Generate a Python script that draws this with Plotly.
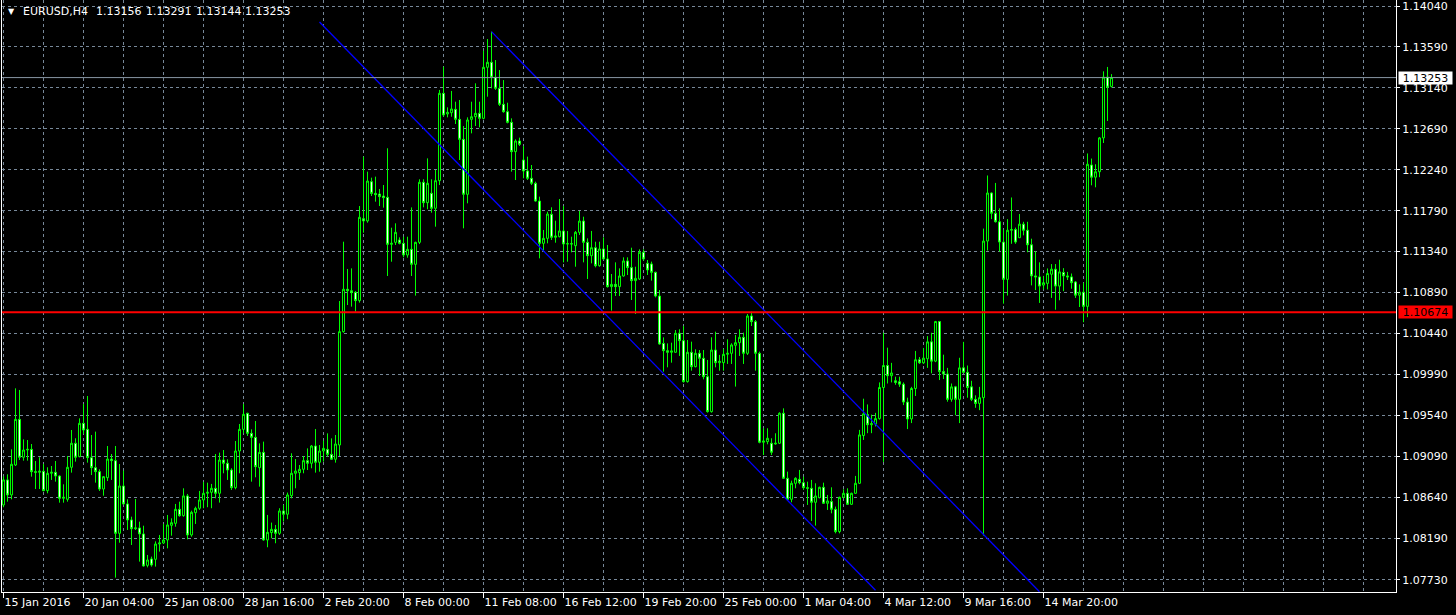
import plotly.graph_objects as go

symbol = "EURUSD,H4"
time_labels = ["15 Jan 2016", "20 Jan 04:00", "25 Jan 08:00", "28 Jan 16:00", "2 Feb 20:00",
               "8 Feb 00:00", "11 Feb 08:00", "16 Feb 12:00", "19 Feb 20:00", "25 Feb 00:00",
               "1 Mar 04:00", "4 Mar 12:00", "9 Mar 16:00", "14 Mar 20:00"]
label_bars = [0, 20, 40, 60, 80, 100, 120, 140, 160, 180, 200, 220, 240, 260]
price_ticks = [1.14040, 1.13590, 1.13140, 1.12690, 1.12240, 1.11790, 1.11340, 1.10890,
               1.10440, 1.09990, 1.09540, 1.09090, 1.08640, 1.08190, 1.07730]

open_ = [
    1.08555, 1.08830, 1.08665, 1.08994, 1.09496, 1.09079, 1.09159, 1.09166, 1.08921, 1.08914,
    1.08925, 1.08712, 1.08903, 1.08914, 1.08873, 1.08628, 1.08617, 1.08969, 1.09233, 1.09086,
    1.09452, 1.09386, 1.09075, 1.08965, 1.08921, 1.08730, 1.08855, 1.09060, 1.09042, 1.08243,
    1.08763, 1.08566, 1.08390, 1.08294, 1.08302, 1.08236, 1.07891, 1.07961, 1.07957, 1.08126,
    1.08137, 1.08170, 1.08331, 1.08353, 1.08507, 1.08437, 1.08654, 1.08225, 1.08470, 1.08518,
    1.08610, 1.08683, 1.08694, 1.08738, 1.08683, 1.09049, 1.09013, 1.08939, 1.08745, 1.09148,
    1.09386, 1.09562, 1.09342, 1.09298, 1.08965, 1.09133, 1.08170, 1.08251, 1.08287, 1.08243,
    1.08489, 1.08453, 1.08658, 1.08903, 1.08910, 1.08947, 1.09042, 1.09013, 1.09203, 1.09024,
    1.09148, 1.09166, 1.09111, 1.09057, 1.09214, 1.10460, 1.10926, 1.10910, 1.10892, 1.10801,
    1.11702, 1.11677, 1.12109, 1.11980, 1.11973, 1.11951, 1.11937, 1.11420, 1.11442, 1.11468,
    1.11431, 1.11303, 1.11365, 1.11200, 1.11442, 1.12102, 1.11878, 1.11981, 1.11816, 1.12120,
    1.13080, 1.12853, 1.12867, 1.12904, 1.12794, 1.12574, 1.11970, 1.12794, 1.12823, 1.12860,
    1.12805, 1.13366, 1.13421, 1.13256, 1.13135, 1.12959, 1.12878, 1.12761, 1.12439, 1.12556,
    1.12347, 1.12226, 1.12146, 1.12091, 1.11896, 1.11431, 1.11486, 1.11750, 1.11497, 1.11504,
    1.11567, 1.11424, 1.11427, 1.11405, 1.11552, 1.11676, 1.11442, 1.11295, 1.11383, 1.11185,
    1.11369, 1.11259, 1.10955, 1.10980, 1.10955, 1.11072, 1.11237, 1.11164, 1.11021, 1.11039,
    1.11332, 1.11211, 1.11204, 1.11112, 1.10852, 1.10331, 1.10251, 1.10233, 1.10233, 1.10442,
    1.10361, 1.09911, 1.10233, 1.10075, 1.10222, 1.10167, 1.09965, 1.09581, 1.10258, 1.10119,
    1.10119, 1.10211, 1.10222, 1.10310, 1.10339, 1.10398, 1.10222, 1.10632, 1.10570, 1.10222,
    1.09244, 1.09251, 1.09233, 1.09225, 1.09233, 1.09563, 1.08848, 1.08617, 1.08793, 1.08837,
    1.08800, 1.08745, 1.08738, 1.08584, 1.08635, 1.08749, 1.08573, 1.08592, 1.08507, 1.08262,
    1.08639, 1.08683, 1.08562, 1.08683, 1.08793, 1.09318, 1.09548, 1.09437, 1.09444, 1.09504,
    1.09846, 1.10088, 1.09976, 1.09920, 1.09909, 1.09883, 1.09686, 1.09500, 1.09835, 1.10151,
    1.10117, 1.10162, 1.10348, 1.10136, 1.10571, 1.10021, 1.09995, 1.09716, 1.09853, 1.09716,
    1.10062, 1.10013, 1.09853, 1.09716, 1.09671, 1.09734, 1.11456, 1.11984, 1.11761, 1.11668,
    1.11445, 1.11035, 1.11575, 1.11582, 1.11493, 1.11642, 1.11575, 1.11415, 1.11073, 1.11062,
    1.10972, 1.10991, 1.11091, 1.11147, 1.10961, 1.11110, 1.11073, 1.11062, 1.11006, 1.10861,
    1.10894, 1.10738, 1.12292, 1.12158, 1.12218, 1.12590, 1.13259, 1.13156,
]
high = [
    1.08870, 1.08892, 1.09166, 1.09837, 1.09819, 1.09276, 1.09269, 1.09225, 1.09038, 1.09079,
    1.09005, 1.08969, 1.08983, 1.09038, 1.08881, 1.08782, 1.09093, 1.09379, 1.09288, 1.09507,
    1.09665, 1.09753, 1.09324, 1.09361, 1.08947, 1.08873, 1.09203, 1.09115, 1.09203, 1.09005,
    1.08932, 1.08617, 1.08426, 1.08620, 1.08371, 1.08327, 1.08005, 1.07987, 1.08155, 1.08225,
    1.08346, 1.08445, 1.08408, 1.08566, 1.08591, 1.08738, 1.08676, 1.08492, 1.08536, 1.08709,
    1.08808, 1.08800, 1.08786, 1.09115, 1.09130, 1.09159, 1.09057, 1.08958, 1.09258, 1.09445,
    1.09664, 1.09569, 1.09386, 1.09478, 1.09232, 1.09251, 1.08445, 1.08361, 1.08335, 1.08519,
    1.08555, 1.08691, 1.09123, 1.09060, 1.08994, 1.09093, 1.09177, 1.09214, 1.09390, 1.09214,
    1.09262, 1.09342, 1.09287, 1.09324, 1.10797, 1.11449, 1.11149, 1.11156, 1.10907, 1.11841,
    1.12384, 1.12219, 1.12153, 1.12164, 1.12028, 1.12072, 1.12476, 1.11603, 1.11651, 1.11497,
    1.11504, 1.11504, 1.11826, 1.11449, 1.12135, 1.12135, 1.12365, 1.12135, 1.12237, 1.13117,
    1.13373, 1.12926, 1.13106, 1.12988, 1.13007, 1.12721, 1.12816, 1.12988, 1.13190, 1.12988,
    1.13549, 1.13677, 1.13758, 1.13446, 1.13336, 1.13226, 1.12977, 1.12805, 1.12574, 1.12593,
    1.12501, 1.12384, 1.12292, 1.12109, 1.11944, 1.11578, 1.11779, 1.11827, 1.11680, 1.11918,
    1.11841, 1.11567, 1.11504, 1.11567, 1.11786, 1.11724, 1.11486, 1.11567, 1.11449, 1.11449,
    1.11497, 1.11413, 1.11094, 1.11222, 1.11156, 1.11277, 1.11277, 1.11383, 1.11174, 1.11365,
    1.11365, 1.11248, 1.11230, 1.11120, 1.10918, 1.10397, 1.10331, 1.10339, 1.10478, 1.10486,
    1.10522, 1.10368, 1.10350, 1.10266, 1.10258, 1.10258, 1.10149, 1.10398, 1.10460, 1.10204,
    1.10270, 1.10376, 1.10332, 1.10424, 1.10486, 1.10449, 1.10654, 1.10680, 1.10588, 1.10240,
    1.09398, 1.09398, 1.09288, 1.09343, 1.09573, 1.09617, 1.08921, 1.08822, 1.08859, 1.08940,
    1.08866, 1.08811, 1.08830, 1.08793, 1.08756, 1.08800, 1.08665, 1.08749, 1.08537, 1.08646,
    1.08727, 1.08738, 1.08690, 1.08874, 1.09380, 1.09723, 1.09660, 1.09548, 1.09567, 1.09902,
    1.10448, 1.10284, 1.10117, 1.09965, 1.09965, 1.09902, 1.09734, 1.09853, 1.10248, 1.10181,
    1.10281, 1.10411, 1.10448, 1.10578, 1.10578, 1.10207, 1.10062, 1.09890, 1.09864, 1.10173,
    1.10348, 1.10088, 1.09920, 1.09760, 1.09853, 1.11593, 1.12177, 1.11991, 1.12095, 1.11816,
    1.11582, 1.11697, 1.11935, 1.11604, 1.11753, 1.11668, 1.11668, 1.11482, 1.11344, 1.11222,
    1.11073, 1.11155, 1.11203, 1.11203, 1.11251, 1.11158, 1.11117, 1.11099, 1.11017, 1.10980,
    1.10998, 1.12419, 1.12363, 1.12300, 1.12600, 1.13322, 1.13370, 1.13291,
]
low = [
    1.08530, 1.08591, 1.08617, 1.08983, 1.09049, 1.09042, 1.09042, 1.08866, 1.08730, 1.08730,
    1.08705, 1.08683, 1.08830, 1.08811, 1.08580, 1.08580, 1.08591, 1.08910, 1.09031, 1.09079,
    1.09335, 1.09020, 1.08884, 1.08800, 1.08709, 1.08657, 1.08818, 1.08830, 1.07756, 1.08140,
    1.08558, 1.08280, 1.08115, 1.08280, 1.07932, 1.07877, 1.07869, 1.07877, 1.07877, 1.08042,
    1.08126, 1.08078, 1.08217, 1.08316, 1.08426, 1.08426, 1.08177, 1.08206, 1.08346, 1.08500,
    1.08519, 1.08530, 1.08519, 1.08628, 1.08581, 1.08903, 1.08830, 1.08720, 1.08727, 1.08903,
    1.09342, 1.09313, 1.08811, 1.08859, 1.08756, 1.08163, 1.08090, 1.08188, 1.08134, 1.08225,
    1.08372, 1.08398, 1.08628, 1.08738, 1.08830, 1.08903, 1.08939, 1.08958, 1.08910, 1.08921,
    1.09031, 1.09086, 1.09049, 1.09020, 1.09093, 1.10449, 1.10753, 1.10735, 1.10680, 1.10779,
    1.11548, 1.11658, 1.11951, 1.11889, 1.11841, 1.11823, 1.11072, 1.11229, 1.11413, 1.11420,
    1.11277, 1.11273, 1.11072, 1.10856, 1.11423, 1.11827, 1.11805, 1.11768, 1.11614, 1.12072,
    1.12823, 1.12816, 1.12823, 1.12743, 1.12347, 1.11596, 1.11871, 1.12640, 1.12721, 1.12706,
    1.12794, 1.13043, 1.13135, 1.13117, 1.12941, 1.12867, 1.12750, 1.12219, 1.12127, 1.12501,
    1.12146, 1.12127, 1.12072, 1.11889, 1.11266, 1.11339, 1.11431, 1.11468, 1.11438, 1.11497,
    1.11222, 1.11229, 1.11332, 1.11174, 1.11523, 1.11222, 1.11039, 1.11211, 1.11167, 1.11174,
    1.11248, 1.10944, 1.10691, 1.10852, 1.10852, 1.11065, 1.11083, 1.10808, 1.10654, 1.11028,
    1.11241, 1.11083, 1.11021, 1.10837, 1.10317, 1.10020, 1.10068, 1.10119, 1.10229, 1.10193,
    1.09900, 1.09900, 1.10031, 1.10068, 1.09973, 1.09936, 1.09570, 1.09570, 1.10068, 1.10031,
    1.10031, 1.10105, 1.10105, 1.09856, 1.10193, 1.10105, 1.10204, 1.10522, 1.10031, 1.09233,
    1.09104, 1.09222, 1.09104, 1.09218, 1.09225, 1.08840, 1.08610, 1.08584, 1.08738, 1.08782,
    1.08720, 1.08555, 1.08379, 1.08328, 1.08628, 1.08566, 1.08500, 1.08463, 1.08243, 1.08243,
    1.08628, 1.08555, 1.08555, 1.08676, 1.08786, 1.09270, 1.09344, 1.09344, 1.09418, 1.09493,
    1.09028, 1.09890, 1.09902, 1.09876, 1.09853, 1.09653, 1.09389, 1.09455, 1.09753, 1.10106,
    1.10106, 1.10062, 1.10002, 1.10125, 1.09928, 1.09939, 1.09690, 1.09690, 1.09541, 1.09455,
    1.10002, 1.09734, 1.09697, 1.09623, 1.09597, 1.08217, 1.11352, 1.11697, 1.11660, 1.11340,
    1.10768, 1.10857, 1.11426, 1.11426, 1.11489, 1.11519, 1.11333, 1.10969, 1.10917, 1.10776,
    1.10924, 1.10924, 1.10831, 1.10701, 1.10805, 1.10905, 1.11028, 1.10932, 1.10831, 1.10731,
    1.10564, 1.10619, 1.12069, 1.12047, 1.12158, 1.12534, 1.12776, 1.13144,
]
close = [
    1.08830, 1.08665, 1.09002, 1.09496, 1.09079, 1.09159, 1.09166, 1.08921, 1.08914, 1.08925,
    1.08712, 1.08903, 1.08914, 1.08873, 1.08628, 1.08639, 1.08969, 1.09233, 1.09079, 1.09452,
    1.09379, 1.09075, 1.08965, 1.08921, 1.08730, 1.08866, 1.09060, 1.09042, 1.08243, 1.08763,
    1.08566, 1.08390, 1.08294, 1.08302, 1.08236, 1.07884, 1.07950, 1.07895, 1.08126, 1.08137,
    1.08170, 1.08335, 1.08360, 1.08507, 1.08437, 1.08654, 1.08225, 1.08474, 1.08518, 1.08610,
    1.08683, 1.08694, 1.08738, 1.08683, 1.09049, 1.09013, 1.08939, 1.08745, 1.09148, 1.09386,
    1.09551, 1.09342, 1.09298, 1.08976, 1.09133, 1.08170, 1.08254, 1.08287, 1.08243, 1.08489,
    1.08453, 1.08665, 1.08903, 1.08928, 1.08947, 1.09042, 1.09013, 1.09203, 1.09024, 1.09148,
    1.09177, 1.09111, 1.09057, 1.09225, 1.10460, 1.10926, 1.10910, 1.10889, 1.10801, 1.11717,
    1.11677, 1.12116, 1.11980, 1.11966, 1.11944, 1.11933, 1.11420, 1.11431, 1.11552, 1.11431,
    1.11303, 1.11365, 1.11200, 1.11442, 1.12102, 1.11878, 1.12091, 1.11816, 1.12120, 1.13080,
    1.12842, 1.12871, 1.12908, 1.12794, 1.12574, 1.11970, 1.12787, 1.12823, 1.12860, 1.12805,
    1.13366, 1.13421, 1.13256, 1.13135, 1.12959, 1.12878, 1.12761, 1.12439, 1.12556, 1.12519,
    1.12226, 1.12146, 1.12091, 1.11896, 1.11431, 1.11486, 1.11753, 1.11497, 1.11512, 1.11567,
    1.11424, 1.11427, 1.11424, 1.11552, 1.11676, 1.11442, 1.11295, 1.11383, 1.11185, 1.11369,
    1.11259, 1.10955, 1.10980, 1.10955, 1.11072, 1.11237, 1.11164, 1.11021, 1.11046, 1.11332,
    1.11259, 1.11138, 1.11112, 1.10852, 1.10324, 1.10251, 1.10233, 1.10248, 1.10442, 1.10361,
    1.09911, 1.10233, 1.10075, 1.10222, 1.10167, 1.09965, 1.09581, 1.10258, 1.10119, 1.10134,
    1.10211, 1.10222, 1.10314, 1.10339, 1.10398, 1.10222, 1.10632, 1.10570, 1.10222, 1.09244,
    1.09258, 1.09288, 1.09134, 1.09233, 1.09563, 1.08848, 1.08617, 1.08793, 1.08848, 1.08800,
    1.08745, 1.08738, 1.08584, 1.08654, 1.08749, 1.08573, 1.08599, 1.08507, 1.08262, 1.08639,
    1.08683, 1.08562, 1.08683, 1.08793, 1.09325, 1.09556, 1.09437, 1.09448, 1.09504, 1.09846,
    1.10088, 1.09976, 1.10006, 1.09902, 1.09883, 1.09686, 1.09500, 1.09835, 1.10151, 1.10117,
    1.10169, 1.10348, 1.10136, 1.10571, 1.10021, 1.09995, 1.09716, 1.09853, 1.09716, 1.10062,
    1.10013, 1.09846, 1.09716, 1.09671, 1.09734, 1.11456, 1.11984, 1.11761, 1.11668, 1.11445,
    1.11035, 1.11575, 1.11582, 1.11445, 1.11642, 1.11575, 1.11415, 1.11073, 1.11062, 1.10961,
    1.10998, 1.11099, 1.11147, 1.10961, 1.11117, 1.11073, 1.11062, 1.10998, 1.10861, 1.10894,
    1.10738, 1.12300, 1.12158, 1.12218, 1.12590, 1.13259, 1.13147, 1.13253,
]

bid_price = 1.13253
level_price = 1.10674
channel_lower_bars = [79, 218]
channel_lower_prices = [1.13864, 1.07617]
channel_upper_bars = [122, 259]
channel_upper_prices = [1.13758, 1.07601]

n = min(len(open_), len(high), len(low), len(close))
bars = list(range(n))

GREEN = "#00FF00"
GRID = "#778899"
FONT = "DejaVu Sans, Verdana, sans-serif"
FS = 11

fig = go.Figure()
fig.add_trace(go.Candlestick(
    x=bars, open=open_[:n], high=high[:n], low=low[:n], close=close[:n],
    increasing=dict(line=dict(color=GREEN, width=1), fillcolor="#000000"),
    decreasing=dict(line=dict(color=GREEN, width=1), fillcolor="#FFFFFF"),
    whiskerwidth=0, hoverinfo="skip", showlegend=False,
))
for bx, py in ((channel_lower_bars, channel_lower_prices), (channel_upper_bars, channel_upper_prices)):
    fig.add_trace(go.Scatter(x=bx, y=py, mode="lines", line=dict(color="#0000FF", width=1.3),
                             hoverinfo="skip", showlegend=False))

last = n - 1
# header: symbol then last bar's O H L C, each as its own text placed like the terminal does
header_texts = [symbol, f"{open_[last]:.5f}", f"{high[last]:.5f}",
                f"{low[last]:.5f}", f"{close[last]:.5f}"]
header_shifts = [19, 92, 142, 192, 241]

annotations = [
    dict(xref="paper", yref="y", x=1, y=bid_price, xanchor="left", yanchor="middle",
         xshift=2, text=f"{bid_price:.5f}", showarrow=False, bgcolor="#FFFFFF",
         font=dict(color="#000000", size=FS, family=FONT), width=51, height=10,
         borderpad=1, align="center"),
    dict(xref="paper", yref="y", x=1, y=level_price, xanchor="left", yanchor="middle",
         xshift=2, text=f"{level_price:.5f}", showarrow=False, bgcolor="#FF0000",
         font=dict(color="#000000", size=FS, family=FONT), width=51, height=10,
         borderpad=1, align="center"),
    dict(xref="paper", yref="paper", x=0, y=1, xanchor="left", yanchor="top",
         xshift=4, yshift=-5, text="\u25BC", showarrow=False,
         font=dict(color="#FFFFFF", size=8, family=FONT)),
]
for txt, sh in zip(header_texts, header_shifts):
    annotations.append(dict(xref="paper", yref="paper", x=0, y=1, xanchor="left", yanchor="top",
                            xshift=sh, yshift=-3, text=txt, showarrow=False,
                            font=dict(color="#FFFFFF", size=FS, family=FONT)))

fig.update_layout(
    width=1456, height=615,
    margin=dict(l=2, r=60, t=0, b=23, autoexpand=False),
    paper_bgcolor="#000000", plot_bgcolor="#000000",
    font=dict(family=FONT, size=FS, color="#FFFFFF"),
    showlegend=False,
    xaxis=dict(
        range=[-0.375, 348.125], tickmode="array", tickvals=label_bars, ticktext=time_labels,
        ticks="outside", ticklen=5, tickcolor="#FFFFFF", tickwidth=1,
        tickangle=0, ticklabelposition="outside right", automargin=False,
        tickfont=dict(family=FONT, size=FS, color="#FFFFFF"),
        showgrid=False, zeroline=False, showline=True, linecolor="#FFFFFF", linewidth=1,
        rangeslider=dict(visible=False), fixedrange=True,
        minor=dict(tickvals=list(range(0, 350, 10)), showgrid=True, gridcolor=GRID,
                   griddash="3px,3px", gridwidth=1, ticks=""),
    ),
    yaxis=dict(
        side="right", range=[1.07598, 1.14106], tickmode="array", tickvals=price_ticks,
        ticktext=[f"{v:.5f}" for v in price_ticks], automargin=False,
        ticklabeloverflow="allow",
        tickfont=dict(family=FONT, size=FS, color="#FFFFFF"),
        ticks="outside", ticklen=3, tickcolor="#FFFFFF",
        showgrid=True, gridcolor=GRID, griddash="3px,3px", gridwidth=1,
        showline=True, mirror=True, linecolor="#FFFFFF", linewidth=1, zeroline=False,
        fixedrange=True,
    ),
    shapes=[
        dict(type="line", xref="paper", x0=0, x1=1, yref="y", y0=bid_price, y1=bid_price,
             line=dict(color="#8896a4", width=1), layer="above"),
        dict(type="line", xref="paper", x0=0, x1=1, yref="y", y0=level_price, y1=level_price,
             line=dict(color="#FF0000", width=2), layer="above"),
    ],
    annotations=annotations,
)

fig.write_html("out.html", config={"displayModeBar": False},
               post_script="document.body.style.margin='0';")
